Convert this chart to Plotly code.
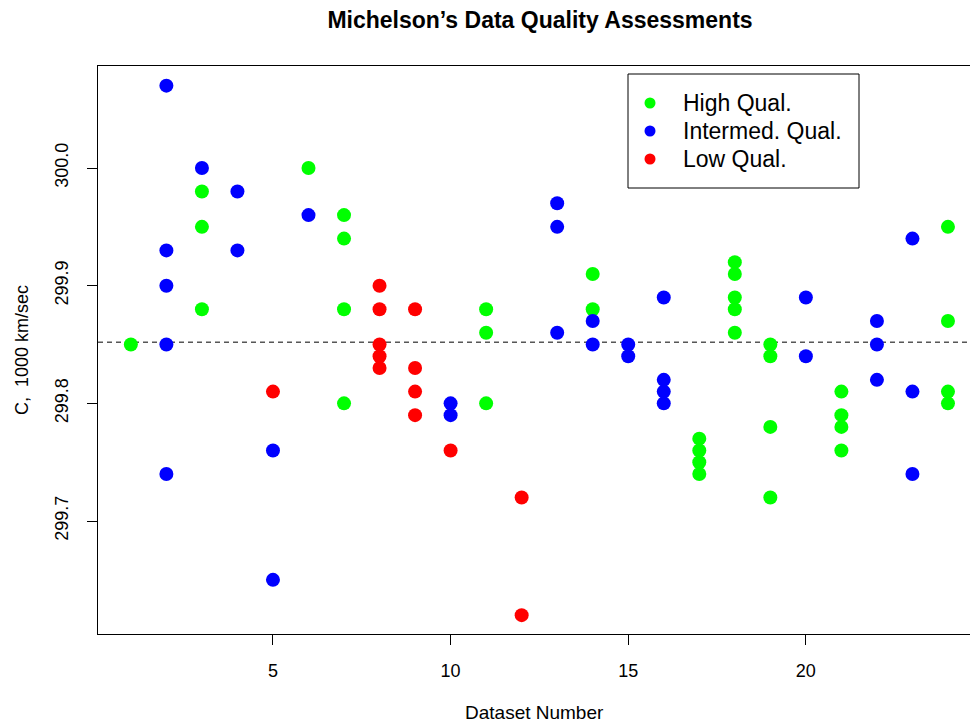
import plotly.graph_objects as go

# Michelson's speed-of-light measurements (C, thousands of km/sec) by dataset,
# grouped by the quality rating he assigned to each dataset.
high_x = [1, 3, 3, 3, 6, 7, 7, 7, 7, 11, 11, 11, 14, 14,
          17, 17, 17, 17, 18, 18, 18, 18, 18, 19, 19, 19, 19,
          21, 21, 21, 21, 24, 24, 24, 24]
high_y = [299.85, 299.98, 299.95, 299.88, 300.00, 299.96, 299.94, 299.88, 299.80,
          299.88, 299.86, 299.80, 299.91, 299.88,
          299.77, 299.76, 299.75, 299.74, 299.92, 299.91, 299.89, 299.88, 299.86,
          299.85, 299.84, 299.78, 299.72,
          299.81, 299.79, 299.78, 299.76, 299.95, 299.87, 299.81, 299.80]

inter_x = [2, 2, 2, 2, 2, 3, 4, 4, 5, 5, 6, 10, 10, 13, 13, 13, 14, 14,
           15, 15, 16, 16, 16, 16, 20, 20, 22, 22, 22, 23, 23, 23]
inter_y = [300.07, 299.93, 299.90, 299.85, 299.74, 300.00, 299.98, 299.93,
           299.76, 299.65, 299.96, 299.80, 299.79, 299.97, 299.95, 299.86,
           299.87, 299.85, 299.85, 299.84, 299.89, 299.82, 299.81, 299.80,
           299.89, 299.84, 299.87, 299.85, 299.82, 299.94, 299.81, 299.74]

low_x = [5, 8, 8, 8, 8, 8, 9, 9, 9, 9, 10, 12, 12]
low_y = [299.81, 299.90, 299.88, 299.85, 299.84, 299.83,
         299.88, 299.83, 299.81, 299.79, 299.76, 299.72, 299.62]

# Overall mean of all 100 measurements
mean_c = 299.852

x_ticks = [5, 10, 15, 20]
y_ticks = [299.7, 299.8, 299.9, 300.0]
y_tick_text = ["299.7", "299.8", "299.9", "300.0"]

groups = [
    ("High Qual.", "#00ff00", high_x, high_y),
    ("Intermed. Qual.", "#0000ff", inter_x, inter_y),
    ("Low Qual.", "#ff0000", low_x, low_y),
]

FONT = "Liberation Sans, Arial, Helvetica, sans-serif"

# plot area in pixels
W, H = 971, 723
L, R, T, B = 98, 1, 66, 89
PW, PH = W - L - R, H - T - B


def px(xp):
    return (xp - L) / PW


def py(yp):
    return (H - B - yp) / PH


fig = go.Figure()
for name, color, xs, ys in groups:
    fig.add_trace(go.Scatter(
        x=xs, y=ys, mode="markers", name=name, showlegend=False,
        marker=dict(color=color, size=14, line=dict(width=0)),
        hoverinfo="x+y",
    ))

# dashed reference line at the overall mean
fig.add_shape(type="line", xref="paper", x0=0, x1=1, yref="y", y0=mean_c, y1=mean_c,
              line=dict(color="black", width=1, dash="5px,4px"), layer="below")

# legend box, top right
fig.add_shape(type="rect", xref="paper", yref="paper",
              x0=px(628), x1=px(859), y0=py(188), y1=py(74),
              line=dict(color="black", width=1), fillcolor="white", layer="above")
row_y = [103, 131, 159]
for (name, color, _, _), yy in zip(groups, row_y):
    fig.add_shape(type="circle", xref="paper", yref="paper",
                  xsizemode="pixel", ysizemode="pixel",
                  xanchor=px(650), yanchor=py(yy),
                  x0=-5.5, x1=5.5, y0=-5.5, y1=5.5,
                  line=dict(width=0), fillcolor=color, layer="above")
    fig.add_annotation(text=name, xref="paper", yref="paper", x=px(681), y=py(yy),
                       xanchor="left", yanchor="middle", showarrow=False,
                       font=dict(size=23, family=FONT, color="black"))

fig.update_layout(
    width=W, height=H,
    margin=dict(l=L, r=R, t=T, b=B),
    paper_bgcolor="white", plot_bgcolor="white",
    font=dict(family=FONT, color="black", size=18),
    title=dict(text="<b>Michelson’s Data Quality Assessments</b>",
               x=540 / W, xanchor="center",
               y=1 - 20 / H, yanchor="middle", yref="container",
               font=dict(size=23, family=FONT)),
    showlegend=False,
)

fig.update_xaxes(
    range=[0.075, 24.62], tickvals=x_ticks, ticks="outside", ticklen=10,
    tickcolor="black", showline=True, linecolor="black", linewidth=1, mirror=True,
    showgrid=False, zeroline=False, ticklabelstandoff=10,
    tickfont=dict(size=18),
)
fig.update_yaxes(
    range=[299.604, 300.0867], tickvals=y_ticks, ticktext=y_tick_text, tickangle=-90,
    ticks="outside", ticklen=10, tickcolor="black", showline=True, linecolor="black",
    linewidth=1, mirror=False, showgrid=False, zeroline=False, ticklabelstandoff=12,
    tickfont=dict(size=18),
)

fig.add_annotation(text="Dataset Number", xref="paper", yref="paper", x=0.5, y=0,
                   yshift=-78, showarrow=False, yanchor="middle",
                   font=dict(size=19, family=FONT))
fig.add_annotation(text="C,  1000 km/sec", xref="paper", yref="paper", x=0, y=0.5,
                   xshift=-76, showarrow=False, xanchor="center", textangle=-90,
                   font=dict(size=18, family=FONT))

fig.write_html("out.html")
